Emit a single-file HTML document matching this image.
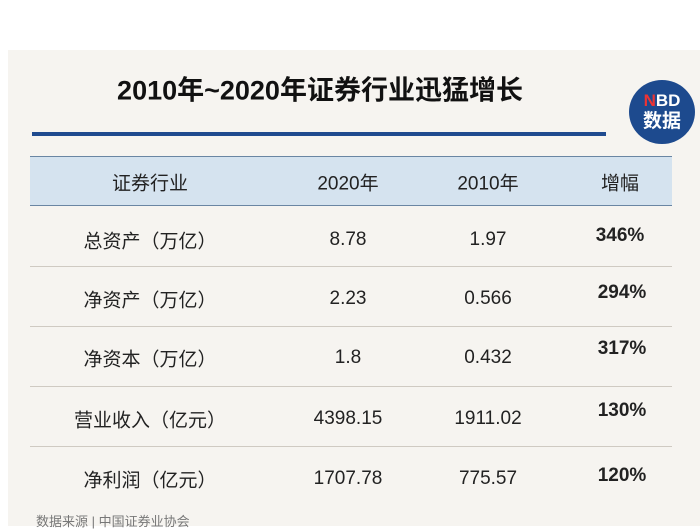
<!DOCTYPE html>
<html><head><meta charset="utf-8"><style>
body{margin:0;width:700px;height:526px;overflow:hidden;background:#fff;font-family:"Liberation Sans","Noto Sans CJK SC",sans-serif;}
#bg{position:absolute;left:8px;top:50px;width:692px;height:476px;background:#f6f4f0;}
.t{position:absolute;white-space:nowrap;transform:translate(-50%,-50%);color:#222;font-size:19px;}
.line{position:absolute;left:30px;width:642px;height:1px;background:#cfcac2;}
</style></head><body>
<div id="bg"></div>
<div class="t" style="left:320px;top:88px;font-size:27px;font-weight:bold;color:#111">2010年~2020年证券行业迅猛增长</div>
<div style="position:absolute;left:32px;top:132px;width:574px;height:4px;background:#1f4b8f"></div>
<div style="position:absolute;left:629px;top:80px;width:66px;height:64px;border-radius:50%;background:#1d4a8e;color:#fff;font-weight:bold;text-align:center;line-height:21px;padding-top:10px;box-sizing:border-box;font-size:17px"><span style="color:#e33">N</span>BD<br><span style="font-size:19px">数据</span></div>
<div style="position:absolute;left:30px;top:156px;width:642px;height:50px;background:#d5e3ef;border-top:1px solid #6a86a3;border-bottom:1px solid #6a86a3;box-sizing:border-box"></div>
<div class="t" style="left:150px;top:182px">证券行业</div>
<div class="t" style="left:348px;top:182px">2020年</div>
<div class="t" style="left:488px;top:182px">2010年</div>
<div class="t" style="left:620px;top:182px">增幅</div>
<div class="line" style="top:266px"></div>
<div class="line" style="top:326px"></div>
<div class="line" style="top:386px"></div>
<div class="line" style="top:446px"></div>
<div class="t" style="left:150px;top:240px">总资产（万亿）</div><div class="t" style="left:348px;top:240px">8.78</div><div class="t" style="left:488px;top:240px">1.97</div><div class="t" style="left:620px;top:236px;font-weight:bold">346%</div>
<div class="t" style="left:150px;top:299px">净资产（万亿）</div><div class="t" style="left:348px;top:299px">2.23</div><div class="t" style="left:488px;top:299px">0.566</div><div class="t" style="left:622px;top:293px;font-weight:bold">294%</div>
<div class="t" style="left:150px;top:358px">净资本（万亿）</div><div class="t" style="left:348px;top:358px">1.8</div><div class="t" style="left:488px;top:358px">0.432</div><div class="t" style="left:622px;top:349px;font-weight:bold">317%</div>
<div class="t" style="left:150px;top:419px">营业收入（亿元）</div><div class="t" style="left:348px;top:419px">4398.15</div><div class="t" style="left:488px;top:419px">1911.02</div><div class="t" style="left:622px;top:411px;font-weight:bold">130%</div>
<div class="t" style="left:150px;top:479px">净利润（亿元）</div><div class="t" style="left:348px;top:479px">1707.78</div><div class="t" style="left:488px;top:479px">775.57</div><div class="t" style="left:622px;top:476px;font-weight:bold">120%</div>
<div style="position:absolute;left:36px;top:511px;font-size:13px;color:#777;white-space:nowrap">数据来源 | 中国证券业协会</div>
</body></html>
